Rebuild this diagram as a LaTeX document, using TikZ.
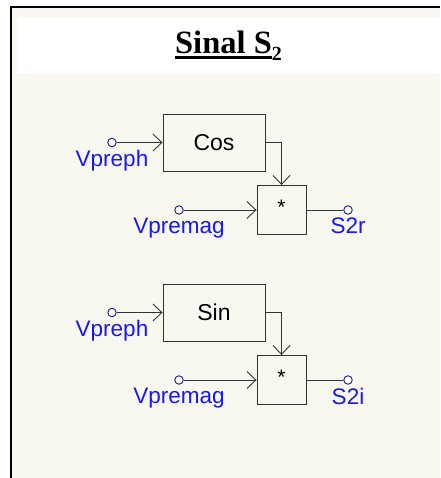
\documentclass[tikz,border=0pt]{standalone}
\usepackage{fontspec}
\setmainfont{Liberation Serif}
\setsansfont{Liberation Sans}
\usetikzlibrary{positioning,arrows.meta}
\definecolor{paper}{HTML}{F9F8F0}
\definecolor{sigblue}{HTML}{1818F0}
\definecolor{portnavy}{HTML}{1C1C8C}
\definecolor{wiregray}{HTML}{333333}
\newcommand\ulbar[1]{\setbox0\hbox{#1}\rlap{\rule[-5pt]{\wd0}{2.5pt}}\box0}

\begin{document}
\begin{tikzpicture}[x=1pt,y=-1pt,>={Straight Barb[length=9pt,width=17pt]},
  fnbox/.style={draw=wiregray,line width=0.9pt,minimum width=102pt,minimum height=57pt,
    text depth=-4pt,font=\sffamily\fontsize{23}{26}\selectfont},
  mulbox/.style={draw=wiregray,line width=0.9pt,minimum width=49pt,minimum height=49pt},
  port/.style={circle,draw=portnavy,line width=0.9pt,minimum size=8.5pt,inner sep=0pt},
  sig/.style={text=sigblue,inner sep=0pt,font=\sffamily\fontsize{22.5}{26}\selectfont},
  wire/.style={draw=wiregray,line width=0.9pt}]
  \useasboundingbox (0,0) rectangle (440,478);
  % sheet and frame
  \fill[white] (0,0) rectangle (440,478);
  \fill[paper] (11,7) rectangle (440,478);
  \fill[white] (17,17) rectangle (440,74);
  \draw[line width=2.5pt] (11,478) -- (11,7) -- (440,7);
  \node[font=\bfseries\fontsize{32.5}{36}\selectfont,anchor=base] (title) at (228.5,54)
    {\ulbar{Sinal S}\raisebox{-7pt}{\fontsize{20}{20}\selectfont 2}};

  % real part
  \node[fnbox] (cos) at (214,142.5) {Cos};
  \node[mulbox] (mul1) at (281.5,210) {};
  \node[font=\sffamily\fontsize{21}{24}\selectfont,anchor=base] (star1) at (281.5,214) {*};
  \node[port] (ph1) at (112,142.5) {};
  \node[port] (mag1) at (179,210) {};
  \node[port] (out1) at (348,210) {};
  \node[sig, below=3pt of ph1] (phl1) {Vpreph};
  \node[sig, below=3pt of mag1] (magl1) {Vpremag};
  \node[sig, below=3pt of out1] (outl1) {S2r};
  \draw[wire,->] (ph1) -- (cos);
  \draw[wire,->] (cos) -| (mul1);
  \draw[wire,->] (mag1) -- (mul1);
  \draw[wire] (mul1) -- (out1);

  % imaginary part
  \node[fnbox] (sin) at (214,312.5) {Sin};
  \node[mulbox] (mul2) at (281.5,380) {};
  \node[font=\sffamily\fontsize{21}{24}\selectfont,anchor=base] (star2) at (281.5,384) {*};
  \node[port] (ph2) at (112,312.5) {};
  \node[port] (mag2) at (179,380) {};
  \node[port] (out2) at (348,380) {};
  \node[sig, below=3pt of ph2] (phl2) {Vpreph};
  \node[sig, below=3pt of mag2] (magl2) {Vpremag};
  \node[sig, below=3pt of out2] (outl2) {S2i};
  \draw[wire,->] (ph2) -- (sin);
  \draw[wire,->] (sin) -| (mul2);
  \draw[wire,->] (mag2) -- (mul2);
  \draw[wire] (mul2) -- (out2);
\end{tikzpicture}
\end{document}
